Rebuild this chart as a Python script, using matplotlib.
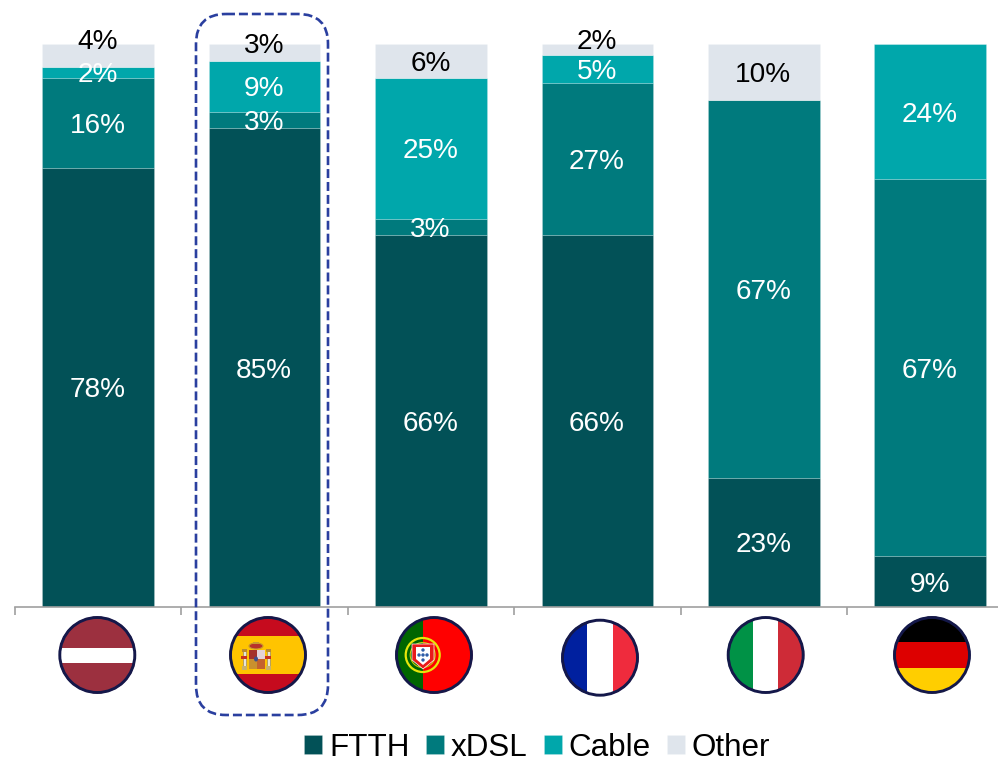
import matplotlib
matplotlib.use("Agg")
import matplotlib.pyplot as plt
import numpy as np
from matplotlib.patches import Circle, Rectangle, FancyBboxPatch, Ellipse, Polygon

plt.rcParams['font.family'] = ['Liberation Sans', 'DejaVu Sans']

countries = ["Latvia", "Spain", "Portugal", "France", "Italy", "Germany"]
ftth = [78, 85, 66, 66, 23, 9]
xdsl = [16, 3, 3, 27, 67, 67]
cable = [2, 9, 25, 5, 0, 24]
other = [4, 3, 6, 2, 10, 0]
series_names = ["FTTH", "xDSL", "Cable", "Other"]
series_values = [ftth, xdsl, cable, other]
series_colors = ["#025157", "#007A7D", "#00A7AB", "#DFE5EC"]
label_colors = ["white", "white", "white", "black"]
# label nudges in pixels (up positive), per series then country
nudges = [
    [0, 0, 0, 0, 0, 0],
    [0, 0, 0, 0, 0, 0],
    [0, 0, 0, 0, 0, 0],
    [16, 9, 0, 11, 0, 0],
]

W, H = 998, 764
fig = plt.figure(figsize=(W / 100, H / 100), dpi=100)
ax = fig.add_axes([15 / W, (H - 607) / H, (W - 15) / W, (607 - 44) / H])
cat_px = 166.4
ax.set_ylim(0, 100)
for s in ["top", "left", "right"]:
    ax.spines[s].set_visible(False)
ax.spines["bottom"].set_color("#A0A0A0")
ax.spines["bottom"].set_linewidth(1.2)
ax.set_yticks([])
ax.set_xticks(np.arange(len(countries) + 1) - 0.5)
ax.set_xticklabels([])
ax.tick_params(axis="x", length=5.5, width=1.2, color="#A0A0A0")
ax.set_xlim(-0.5, -0.5 + (W - 15) / cat_px)

x = np.arange(len(countries))
bottom = np.zeros(len(countries))
for si, (name, vals, col) in enumerate(zip(series_names, series_values, series_colors)):
    vals = np.array(vals, dtype=float)
    ax.bar(x, vals, 0.67, bottom=bottom, color=col, edgecolor=(1, 1, 1, 0.18),
           linewidth=0.7, label=name)
    for i, v in enumerate(vals):
        if v > 0:
            ax.annotate(f"{int(v)}%", (x[i], bottom[i] + v / 2), xytext=(-0.4, nudges[si][i] * 0.72),
                        textcoords="offset points", ha="center", va="center_baseline",
                        fontsize=20.2, color=label_colors[si], annotation_clip=False)
    bottom += vals

fig.legend(loc="lower left", bbox_to_anchor=(298 / W, -5 / H), ncol=4, frameon=False, fontsize=22.6,
           handlelength=0.57, handleheight=0.57, handletextpad=0.22, columnspacing=0.52,
           borderpad=0.2, borderaxespad=0, labelcolor="black")

ov = fig.add_axes([0, 0, 1, 1], facecolor="none")
ov.set_xlim(0, W)
ov.set_ylim(H, 0)
ov.axis("off")

ov.add_patch(FancyBboxPatch((196 + 30, 14 + 30), 132 - 60, 701 - 60,
                            boxstyle="round,pad=30,rounding_size=30", fill=False,
                            edgecolor="#2A3F9F", linewidth=1.9, linestyle=(0, (3.4, 1.5))))

R = 38.5
OUT = "#14184A"


def flag(cx, cy, draw):
    clip = Circle((cx, cy), R, transform=ov.transData)
    for a in draw(cx, cy):
        ov.add_patch(a)
        a.set_clip_path(clip)
    ov.add_patch(Circle((cx, cy), R - 1, fill=False, edgecolor=OUT, linewidth=2.1, zorder=5))


def hstripes(cols, ys):
    def d(cx, cy):
        out = []
        for c, (a, b) in zip(cols, ys):
            out.append(Rectangle((cx - R, a), 2 * R, b - a, facecolor=c, edgecolor="none"))
        return out
    return d


def vstripes(cols, xs):
    def d(cx, cy):
        out = []
        for c, (a, b) in zip(cols, xs):
            out.append(Rectangle((a, cy - R), b - a, 2 * R, facecolor=c, edgecolor="none"))
        return out
    return d


flag(97.3, 655, hstripes(["#9C303F", "white", "#9C303F"], [(610, 647.7), (647.7, 662.7), (662.7, 700)]))
flag(268, 655, hstripes(["#C60B1E", "#FFC400", "#C60B1E"], [(610, 636), (636, 674.3), (674.3, 700)]))
flag(434, 655, vstripes(["#006600", "#FF0000"], [(390, 423), (423, 480)]))
flag(600, 657.7, vstripes(["#00209F", "white", "#EF2B3D"], [(555, 586.7), (586.7, 612.7), (612.7, 645)]))
flag(765.7, 655, vstripes(["#009246", "white", "#CE2B37"], [(720, 752.7), (752.7, 778.3), (778.3, 810)]))
flag(932, 655, hstripes(["black", "#DD0000", "#FFCE00"], [(610, 642.3), (642.3, 667.7), (667.7, 700)]))

# Spanish coat of arms
for px in (244.5, 268.5):
    ov.add_patch(Rectangle((px - 1.5, 651), 3, 15, facecolor="#E8E4D8", edgecolor="#8A7A50", linewidth=0.4, zorder=3))
    ov.add_patch(Rectangle((px - 2.5, 666), 5, 3.5, facecolor="#C9B26A", edgecolor="none", zorder=3))
    ov.add_patch(Rectangle((px - 2.5, 649), 5, 2.5, facecolor="#B98B2F", edgecolor="none", zorder=3))
    ov.add_patch(Rectangle((px - 3, 656), 6, 3, facecolor="#C8321F", edgecolor="none", zorder=3))
ov.add_patch(Rectangle((249, 650), 16, 19, facecolor="#C4622D", edgecolor="none", zorder=3))
ov.add_patch(Rectangle((249, 650), 8, 9, facecolor="#A5322A", edgecolor="none", zorder=3))
ov.add_patch(Rectangle((257, 650), 8, 9, facecolor="#E4D2D8", edgecolor="none", zorder=3))
ov.add_patch(Rectangle((249, 659), 8, 10, facecolor="#C9902E", edgecolor="none", zorder=3))
ov.add_patch(Ellipse((256, 659), 4, 5, facecolor="#3E4F8C", edgecolor="none", zorder=3))
ov.add_patch(Ellipse((256, 646), 14, 6, facecolor="#B8322A", edgecolor="#C89A2E", linewidth=0.8, zorder=3))
ov.add_patch(Rectangle((253, 642), 6, 2, facecolor="#C89A2E", edgecolor="none", zorder=3))

# Portuguese arms
ov.add_patch(Circle((422.7, 655), 17, fill=False, edgecolor="#E6E60A", linewidth=1.6, zorder=3))
ov.add_patch(Circle((422.7, 655), 12.5, fill=False, edgecolor="#C8C80A", linewidth=0.8, zorder=3))
ov.add_patch(Polygon([(412, 644), (434, 644), (434, 660), (423, 669), (412, 660)], closed=True,
                     facecolor="#E81A1A", edgecolor="white", linewidth=0.5, zorder=3))
ov.add_patch(Polygon([(416, 647), (430, 647), (430, 659), (423, 665), (416, 659)], closed=True,
                     facecolor="white", edgecolor="none", zorder=4))
for dx, dy in [(423, 650), (419, 655), (423, 655), (427, 655), (423, 660)]:
    ov.add_patch(Circle((dx, dy), 1.7, facecolor="#2F5DA8", edgecolor="none", zorder=4))

fig.savefig("out.png", dpi=100)
